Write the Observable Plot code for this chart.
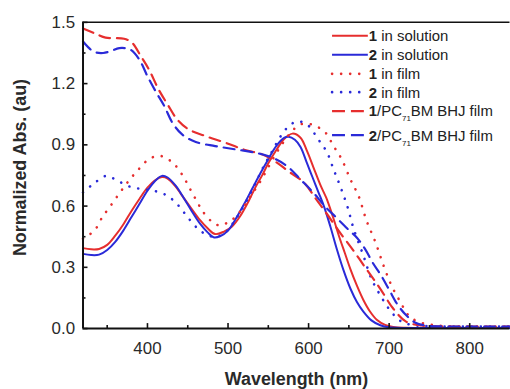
<!DOCTYPE html>
<html><head><meta charset="utf-8">
<script src="https://cdn.jsdelivr.net/npm/d3@7"></script>
<script src="https://cdn.jsdelivr.net/npm/@observablehq/plot@0.6"></script>
<style>html,body{margin:0;padding:0;background:#fff;overflow:hidden;width:510px;height:389px}</style>
</head><body><div id="chart"></div>
<script>
// ---------- data ----------
const xMajorTicks = [400, 500, 600, 700, 800];
const xMinorTicks = [350, 450, 550, 650, 750];
const yMajorTicks = [0, 0.3, 0.6, 0.9, 1.2, 1.5];
const yMinorTicks = [0.15, 0.45, 0.75, 1.05, 1.35];
const xLabel = "Wavelength (nm)";
const yLabel = "Normalized Abs. (au)";

// 1 in solution
const sol1X = [320,330,340,350,360,370,380,390,400,410,418,425,435,445,455,465,475,484,495,505,515,525,535,542,550,560,570,580,590,598,606,615,622,630,638,645,652,660,668,676,685,695,705,720,760,800,850];
const sol1Y = [0.394,0.388,0.39,0.41,0.455,0.51,0.575,0.635,0.69,0.728,0.742,0.735,0.695,0.64,0.585,0.532,0.49,0.463,0.475,0.50,0.55,0.62,0.70,0.748,0.81,0.875,0.93,0.955,0.935,0.87,0.79,0.70,0.64,0.55,0.45,0.37,0.29,0.21,0.14,0.085,0.042,0.018,0.008,0.004,0.003,0.003,0.003];
// 2 in solution
const sol2X = [320,330,340,350,360,370,380,390,400,410,418,425,435,445,455,465,475,482,490,500,510,520,530,540,550,560,570,575,583,590,598,605,612,619,627,635,643,652,660,668,678,689,700,720,760,800,850];
const sol2Y = [0.366,0.36,0.362,0.385,0.425,0.48,0.545,0.61,0.675,0.725,0.748,0.74,0.70,0.64,0.575,0.515,0.47,0.447,0.452,0.48,0.54,0.61,0.685,0.76,0.83,0.895,0.935,0.94,0.925,0.89,0.81,0.74,0.67,0.60,0.50,0.39,0.29,0.195,0.13,0.083,0.04,0.016,0.006,0.003,0.003,0.003,0.003];
// 1 in film
const film1X = [320,328,336,344,354,366,376,389,403,417,432,444,452,461,469,481,490,500,510,520,530,540,550,560,570,580,590,600,610,621,631,641,652,662,672,683,693,703,714,724,735,750,770,800,850];
const film1Y = [0.44,0.46,0.49,0.546,0.60,0.667,0.72,0.78,0.833,0.845,0.81,0.748,0.69,0.626,0.572,0.52,0.505,0.52,0.55,0.60,0.66,0.72,0.79,0.86,0.92,0.97,1.0,1.003,0.99,0.96,0.894,0.83,0.73,0.65,0.528,0.423,0.309,0.21,0.13,0.065,0.035,0.02,0.012,0.01,0.008];
// 2 in film
const film2X = [320,334,349,363,379,394,408,425,439,451,464,476,485,495,505,515,525,535,545,555,565,575,586,598,612,623,631,639,648,656,668,678,689,701,713,725,750,800,850];
const film2Y = [0.667,0.712,0.748,0.724,0.694,0.683,0.675,0.65,0.60,0.54,0.484,0.455,0.45,0.465,0.51,0.57,0.64,0.72,0.80,0.87,0.94,0.99,1.015,1.0,0.927,0.862,0.78,0.70,0.60,0.488,0.358,0.244,0.163,0.09,0.04,0.02,0.012,0.01,0.01];
// 1/PC71BM BHJ film
const bhj1X = [320,334,348,358,371,381,392,402,414,425,437,451,472,497,521,542,560,575,594,610,623,639,656,672,689,705,721,740,770,800,850];
const bhj1Y = [1.47,1.447,1.425,1.423,1.42,1.40,1.333,1.268,1.17,1.098,1.024,0.976,0.943,0.91,0.875,0.854,0.815,0.77,0.716,0.63,0.56,0.47,0.38,0.29,0.195,0.098,0.034,0.015,0.01,0.01,0.01];
// 2/PC71BM BHJ film
const bhj2X = [320,326,334,345,355,365,379,390,400,410,421,431,443,460,484,509,538,559,575,590,605,620,634,648,660,670,680,690,700,710,720,732,745,800,850];
const bhj2Y = [1.406,1.38,1.355,1.35,1.36,1.374,1.366,1.317,1.236,1.163,1.089,1.008,0.951,0.914,0.894,0.878,0.858,0.83,0.79,0.73,0.67,0.60,0.545,0.49,0.445,0.39,0.32,0.26,0.19,0.12,0.07,0.03,0.015,0.01,0.01];

const seriesNames = ["1 in solution", "2 in solution", "1 in film", "2 in film", "1/PC71BM BHJ film", "2/PC71BM BHJ film"];
const seriesColors = ["#e62e2e", "#2a2ad8", "#e62e2e", "#2a2ad8", "#e62e2e", "#2a2ad8"];
const seriesKinds = ["solid", "solid", "dot", "dot", "dash", "dash"];
const seriesXs = [sol1X, sol2X, film1X, film2X, bhj1X, bhj2X];
const seriesYs = [sol1Y, sol2Y, film1Y, film2Y, bhj1Y, bhj2Y];

// ---------- layout ----------
const W = 513, H = 389, mL = 83, mR = 0.5, mT = 22, mB = 59;
const plotW = W - mL - mR, plotH = H - mT - mB;
const kindStyle = {
  solid: {strokeWidth: 2},
  dot: {strokeWidth: 2.6, strokeDasharray: "0.1 9", strokeLinecap: "round"},
  dash: {strokeWidth: 2.2, strokeDasharray: "11 7"}
};

const lineMarks = seriesNames.map((name, i) => {
  const rows = seriesXs[i].map((x, j) => ({x, y: seriesYs[i][j]}));
  return Plot.line(rows, {x: "x", y: "y", stroke: seriesColors[i], curve: "catmull-rom", ...kindStyle[seriesKinds[i]]});
});

const chart = Plot.plot({
  width: W, height: H,
  marginLeft: mL, marginRight: mR, marginTop: mT, marginBottom: mB,
  style: {fontFamily: "'Liberation Sans', Arial, sans-serif", fontSize: "17px", color: "#2a2a2a", background: "#fff", overflow: "visible"},
  x: {domain: [320, 850]},
  y: {domain: [0, 1.5]},
  marks: [
    ...lineMarks,
    Plot.ruleY([yMajorTicks[yMajorTicks.length - 1]], {stroke: "#111", strokeWidth: 1.5}),
    Plot.ruleX([320], {stroke: "#111", strokeWidth: 2}),
    Plot.ruleY([0], {stroke: "#111", strokeWidth: 2}),
    Plot.tickX(xMajorTicks, {x: d => d, insetTop: plotH - 5, stroke: "#111", strokeWidth: 1.6}),
    Plot.tickX(xMinorTicks, {x: d => d, insetTop: plotH - 3, stroke: "#111", strokeWidth: 1.6}),
    Plot.tickY(yMajorTicks, {y: d => d, insetRight: plotW - 5, stroke: "#111", strokeWidth: 1.6}),
    Plot.tickY(yMinorTicks, {y: d => d, insetRight: plotW - 3, stroke: "#111", strokeWidth: 1.6}),
    Plot.axisX(xMajorTicks, {tickSize: 0, tickPadding: 14, label: null, fontSize: 17}),
    Plot.axisY(yMajorTicks, {tickSize: 0, tickPadding: 8, label: null, tickFormat: d3.format(".1f"), fontSize: 17}),
    Plot.text([xLabel], {frameAnchor: "bottom", dy: 50.5, textAnchor: "middle", lineAnchor: "middle", fontWeight: "bold", fontSize: 18, fill: "#2a2a2a"}),
    Plot.text([yLabel], {frameAnchor: "left", dx: -63, dy: -8, rotate: -90, textAnchor: "middle", lineAnchor: "middle", fontWeight: "bold", fontSize: 18, fill: "#2a2a2a"})
  ]
});

document.getElementById("chart").appendChild(chart);

// ---------- legend ----------
const svg = d3.select(chart);
const legendRowsY = [36, 55, 74.3, 92.7, 111.7, 136];
const lg = svg.append("g").attr("font-family", "'Liberation Sans', Arial, sans-serif").attr("font-size", 15).attr("fill", "#222").attr("text-anchor", "start");
seriesNames.forEach((name, i) => {
  const y = legendRowsY[i];
  const st = kindStyle[seriesKinds[i]];
  const ln = lg.append("line").attr("x1", 334).attr("x2", 370).attr("y1", y).attr("y2", y)
    .attr("stroke", seriesColors[i]).attr("stroke-width", st.strokeWidth);
  if (st.strokeDasharray) ln.attr("stroke-dasharray", seriesKinds[i] === "dash" ? "13 6" : st.strokeDasharray);
  if (st.strokeLinecap) ln.attr("stroke-linecap", st.strokeLinecap);
  const t = lg.append("text").attr("x", 371).attr("y", y).attr("dy", "0.36em");
  const num = name.slice(0, 1), rest = name.slice(1);
  t.append("tspan").attr("font-weight", "bold").text(num);
  const m = rest.match(/^(.*PC)(71)(BM.*)$/);
  if (m) {
    t.append("tspan").text(m[1]);
    t.append("tspan").attr("font-size", 8).attr("dy", 5).text(m[2]);
    t.append("tspan").attr("dy", -5).text(m[3]);
  } else {
    t.append("tspan").text(rest);
  }
});
</script>
</body></html>
